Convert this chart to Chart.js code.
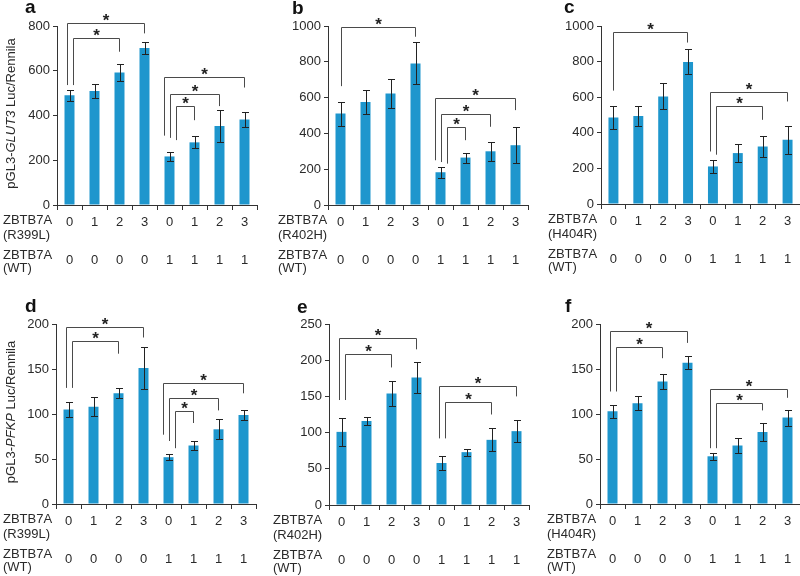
<!DOCTYPE html>
<html><head><meta charset="utf-8">
<script src="https://cdn.jsdelivr.net/npm/chart.js@4.4.1/dist/chart.umd.min.js"></script>
<style>
html,body{margin:0;padding:0;background:#fff;}
#wrap{position:relative;width:800px;height:576px;overflow:hidden;background:#fff;}
canvas{position:absolute;}
</style></head><body><div id="wrap"></div>
<script>
// ---- data ----
const mutantDose = [0,1,2,3,0,1,2,3];
const wtDose     = [0,0,0,0,1,1,1,1];
const panelLetters = ['a','b','c','d','e','f'];
const mutantNames  = ['R399L','R402H','H404R','R399L','R402H','H404R'];
const yMax  = [800,1000,1000,200,250,200];
const yStep = [200,200,200,50,50,50];

const valuesA = [490, 510, 592, 702, 217, 280, 353, 382];
const errorsA = [26, 30, 36, 28, 22, 27, 70, 32];
const valuesB = [511, 575, 623, 791, 183, 265, 300, 334];
const errorsB = [67, 66, 79, 117, 32, 28, 52, 99];
const valuesC = [486, 495, 604, 798, 211, 286, 323, 361];
const errorsC = [63, 55, 73, 70, 35, 49, 58, 80];
const valuesD = [105, 108, 123, 151, 52, 65, 83, 99];
const errorsD = [8, 10.5, 5.5, 23, 3.5, 5, 11, 6];
const valuesE = [101, 116, 154, 176, 58, 73, 90, 102];
const errorsE = [19, 5, 17, 21, 9.5, 5, 16, 15.5];
const valuesF = [103, 112, 136, 157, 53, 65, 80, 96];
const errorsF = [7.5, 7.5, 8.5, 7, 4, 8.5, 10.5, 9];

// significance brackets: [fromIndex, toIndex, barLevel, leftLegEnd, rightLegEnd] (data units)
const bracketsA = [[0,3,812,536,767],[0,2,745,536,685],[4,7,570,310,525],[4,6,494,300,442],[4,5,442,290,379]];
const bracketsB = [[0,3,996,664,940],[4,7,595,250,530],[4,6,506,240,437],[4,5,437,231,362]];
const bracketsC = [[0,3,968,637,907],[4,7,632,295,576],[4,6,548,277,473]];
const bracketsD = [[0,3,197,129,185],[0,2,181,129,167],[4,7,134,77,123],[4,6,118,70,104],[4,5,103,62,90]];
const bracketsE = [[0,3,231,145,215],[0,2,208,145,190],[4,7,165,92,150],[4,6,142,92,125]];
const bracketsF = [[0,3,192,125,179],[0,2,175,125,162],[4,7,128,62,118],[4,6,112,62,104]];

const yTitles = [['pGL3-','GLUT3',' Luc/Rennila'], null, null, ['pGL3-','PFKP',' Luc/Rennila'], null, null];

// ---- layout (styling) ----
const layout = [
 {left:0,   top:0,   w:265, h:285, axisX:57, plotTop:26, plotBottom:205, plotRight:257, headX:3,  letterX:25, letterY:13},
 {left:265, top:0,   w:265, h:285, axisX:63, plotTop:26, plotBottom:205, plotRight:263, headX:13, letterX:27, letterY:14},
 {left:530, top:0,   w:270, h:285, axisX:71, plotTop:26, plotBottom:204, plotRight:270, headX:18, letterX:34, letterY:13},
 {left:0,   top:285, w:265, h:291, axisX:56, plotTop:39, plotBottom:219, plotRight:256, headX:3,  letterX:25, letterY:27},
 {left:265, top:285, w:265, h:291, axisX:64, plotTop:39, plotBottom:220, plotRight:264, headX:8,  letterX:32, letterY:28},
 {left:530, top:285, w:270, h:291, axisX:70, plotTop:39, plotBottom:219, plotRight:270, headX:17, letterX:35, letterY:27},
];
const allValues = [valuesA,valuesB,valuesC,valuesD,valuesE,valuesF];
const allErrors = [errorsA,errorsB,errorsC,errorsD,errorsE,errorsF];
const allBrackets = [bracketsA,bracketsB,bracketsC,bracketsD,bracketsE,bracketsF];

const FONT = '"Liberation Sans", Arial, Helvetica, sans-serif';
const BAR = '#1e96cd';
const TXT = '#2a2a2a';
const LINE_H = 1.45, FS = 13;
const labels = mutantDose.map((m,i)=>[String(m), '', String(wtDose[i])]);

function makePanel(p){
  const L = layout[p];
  const cv = document.createElement('canvas');
  cv.width = L.w; cv.height = L.h;
  cv.style.left = L.left+'px'; cv.style.top = L.top+'px';
  cv.style.width = L.w+'px'; cv.style.height = L.h+'px';
  document.getElementById('wrap').appendChild(cv);

  const values = allValues[p], errors = allErrors[p], brackets = allBrackets[p];

  const errPlugin = {
    id:'errbars',
    afterDatasetsDraw(chart){
      const ctx = chart.ctx, ys = chart.scales.y;
      const meta = chart.getDatasetMeta(0);
      ctx.save(); ctx.strokeStyle = '#222'; ctx.lineWidth = 1;
      meta.data.forEach((bar,i)=>{
        const x = Math.round(bar.x)+0.5;
        const y1 = Math.round(ys.getPixelForValue(values[i]+errors[i]))+0.5;
        const y2 = Math.round(ys.getPixelForValue(values[i]-errors[i]))+0.5;
        ctx.beginPath();
        ctx.moveTo(x,y1); ctx.lineTo(x,y2);
        ctx.moveTo(x-3.5,y1); ctx.lineTo(x+3.5,y1);
        ctx.moveTo(x-3.5,y2); ctx.lineTo(x+3.5,y2);
        ctx.stroke();
      });
      ctx.restore();
    }
  };

  const decoPlugin = {
    id:'deco',
    afterDraw(chart){
      const ctx = chart.ctx, xs = chart.scales.x, ys = chart.scales.y;
      ctx.save();
      // brackets
      ctx.strokeStyle = '#4a4a4a'; ctx.lineWidth = 1;
      const groups = {};
      brackets.forEach(b=>{ (groups[b[0]] = groups[b[0]] || []).push(b); });
      Object.values(groups).forEach(g=>{
        g.sort((a,b)=>b[2]-a[2]);
        const n = g.length;
        g.forEach((b,k)=>{
          const xl = Math.round(xs.getPixelForValue(b[0]) + (k-(n-1)/2)*6)+0.5;
          const xr = Math.round(xs.getPixelForValue(b[1]))-0.5;
          const yb = Math.round(ys.getPixelForValue(b[2]))+0.5;
          const yl = ys.getPixelForValue(b[3]);
          const yr = ys.getPixelForValue(b[4]);
          ctx.beginPath();
          ctx.moveTo(xl,yl); ctx.lineTo(xl,yb); ctx.lineTo(xr,yb); ctx.lineTo(xr,yr);
          ctx.stroke();
          ctx.fillStyle = '#222';
          ctx.font = 'bold 17px '+FONT;
          ctx.textAlign = 'center'; ctx.textBaseline = 'alphabetic';
          ctx.fillText('*', (xl+xr)/2, yb+2);
        });
      });
      // panel letter
      ctx.fillStyle = '#111';
      ctx.font = 'bold 19px '+FONT;
      ctx.textAlign = 'left'; ctx.textBaseline = 'alphabetic';
      ctx.fillText(panelLetters[p], L.letterX, L.letterY);
      // row headings
      const bottom = chart.chartArea.bottom;
      const row1 = bottom + 5 + 3 + FS*LINE_H/2;
      const row2 = row1 + 2*FS*LINE_H;
      ctx.font = FS+'px '+FONT; ctx.fillStyle = TXT;
      ctx.textBaseline = 'middle';
      ctx.fillText('ZBTB7A', L.headX, row1-2);
      ctx.fillText('('+mutantNames[p]+')', L.headX, row1+12.5);
      ctx.fillText('ZBTB7A', L.headX, row2-4.5);
      ctx.fillText('(WT)', L.headX, row2+8.5);
      // y title
      const t = yTitles[p];
      if (t){
        const fN = FS+'px '+FONT, fI = 'italic '+FS+'px '+FONT;
        ctx.font = fN; const w0 = ctx.measureText(t[0]).width, w2 = ctx.measureText(t[2]).width;
        ctx.font = fI; const w1 = ctx.measureText(t[1]).width;
        const tot = w0+w1+w2;
        const cy = (chart.chartArea.top + chart.chartArea.bottom)/2 - 2;
        ctx.translate(11, cy); ctx.rotate(-Math.PI/2);
        ctx.textAlign = 'left'; ctx.textBaseline = 'middle';
        let x = -tot/2;
        ctx.font = fN; ctx.fillText(t[0], x, 0); x += w0;
        ctx.font = fI; ctx.fillText(t[1], x, 0); x += w1;
        ctx.font = fN; ctx.fillText(t[2], x, 0);
      }
      ctx.restore();
    }
  };

  new Chart(cv, {
    type:'bar',
    data:{ labels: labels, datasets:[{ data: values, backgroundColor: BAR, barPercentage:0.4, categoryPercentage:1.0, borderWidth:0 }] },
    options:{
      responsive:false, animation:false, devicePixelRatio:1,
      layout:{ autoPadding:false, padding:{ left:0, top:L.plotTop, right:L.w-L.plotRight, bottom:0 } },
      plugins:{ legend:{display:false}, tooltip:{enabled:false} },
      scales:{
        x:{
          grid:{ display:true, drawOnChartArea:false, drawTicks:true, tickLength:5, color:'#333', offset:true },
          border:{ display:true, color:'#333', width:1 },
          ticks:{ autoSkip:false, maxRotation:0, minRotation:0, padding:3, color:TXT, font:{ family:FONT, size:FS, lineHeight:LINE_H } },
          afterFit(s){ s.height = L.h - L.plotBottom; }
        },
        y:{
          min:0, max:yMax[p],
          grid:{ display:true, drawOnChartArea:false, drawTicks:true, tickLength:4, color:'#333' },
          border:{ display:true, color:'#333', width:1 },
          ticks:{ stepSize:yStep[p], padding:3, color:TXT, font:{ family:FONT, size:FS }, callback:(v)=>String(v) },
          afterFit(s){ s.width = L.axisX; }
        }
      }
    },
    plugins:[errPlugin, decoPlugin]
  });
}
for (let p=0;p<6;p++) makePanel(p);
</script>
</body></html>
